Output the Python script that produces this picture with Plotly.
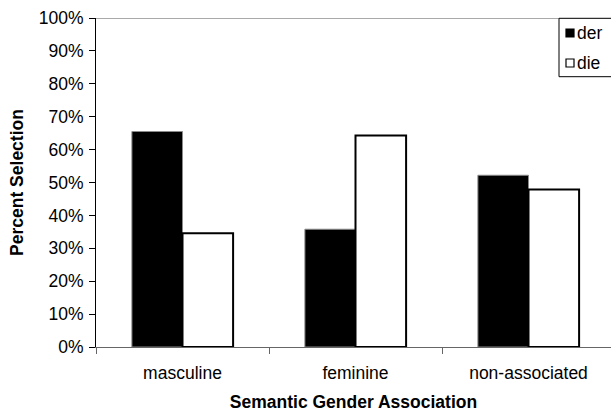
import plotly.graph_objects as go

categories = ["masculine", "feminine", "non-associated"]
series_names = ["der", "die"]
der_values = [65.5, 35.8, 52.2]
die_values = [34.6, 64.3, 47.9]
y_ticks = [0, 10, 20, 30, 40, 50, 60, 70, 80, 90, 100]
y_tick_labels = ["0%", "10%", "20%", "30%", "40%", "50%", "60%", "70%", "80%", "90%", "100%"]

W, H = 611, 414
L, R, T, B = 96, 0, 18, 67
PW, PH = W - L - R, H - T - B
CAT_W = 173.0

FONT = "Liberation Sans, Arial, sans-serif"
FS = 17.5


def px_x(p):
    return (p - L) / PW


def px_y(p):
    return (H - B - p) / PH


fig = go.Figure()
fig.add_trace(go.Bar(
    x=categories, y=der_values, name=series_names[0],
    marker=dict(color="black", line=dict(color="#8a8a8a", width=1)),
    showlegend=False,
))
fig.add_trace(go.Bar(
    x=categories, y=die_values, name=series_names[1],
    marker=dict(color="white", line=dict(color="black", width=2)),
    showlegend=False,
))

x_max = -0.5 + PW / CAT_W

fig.update_layout(
    width=W, height=H,
    margin=dict(l=L, r=R, t=T, b=B, autoexpand=False),
    paper_bgcolor="white", plot_bgcolor="white",
    barmode="group", bargap=0.415, bargroupgap=0,
    font=dict(family=FONT, size=FS, color="black"),
    xaxis=dict(
        range=[-0.5, x_max], showgrid=False, zeroline=False,
        showline=True, linecolor="#666666", linewidth=1,
        ticks="outside", tickson="boundaries", ticklen=6, tickcolor="#666666",
        ticklabelstandoff=10,
        tickfont=dict(family=FONT, size=FS, color="black"),
        title=dict(text="<b>Semantic Gender Association</b>", standoff=13,
                   font=dict(family=FONT, size=FS, color="black")),
    ),
    yaxis=dict(
        range=[0, 100], tickmode="array", tickvals=y_ticks, ticktext=y_tick_labels,
        showgrid=False, zeroline=False,
        showline=True, linecolor="black", linewidth=1,
        ticks="outside", ticklen=6, tickcolor="black",
        ticklabelstandoff=2,
        tickfont=dict(family=FONT, size=FS, color="black"),
        title=dict(text="<b>Percent Selection</b>", standoff=10,
                   font=dict(family=FONT, size=FS, color="black")),
    ),
)

# gray top line at 100%
fig.add_shape(type="line", xref="paper", yref="y", x0=0, x1=1.05, y0=100, y1=100,
              line=dict(color="#8c8c8c", width=1.5), layer="above")

# manual legend
fig.add_shape(type="rect", xref="paper", yref="paper",
              x0=px_x(559), x1=px_x(640), y0=px_y(76.7), y1=px_y(18.3),
              fillcolor="white", line=dict(color="black", width=1), layer="above")
fills = ["black", "white"]
for i, name in enumerate(series_names):
    cy = 33 + 30 * i
    fig.add_shape(type="rect", xref="paper", yref="paper",
                  x0=px_x(566), x1=px_x(574), y0=px_y(cy + 4), y1=px_y(cy - 4),
                  fillcolor=fills[i], line=dict(color="black", width=1.2), layer="above")
    fig.add_annotation(xref="paper", yref="paper", x=px_x(574.5), y=px_y(cy),
                       text=name, showarrow=False, xanchor="left", yanchor="middle",
                       font=dict(family=FONT, size=FS, color="black"))

fig.write_html(
    "out.html",
    config={"displayModeBar": False},
    post_script="document.body.style.margin='0';document.body.style.overflow='hidden';",
)
